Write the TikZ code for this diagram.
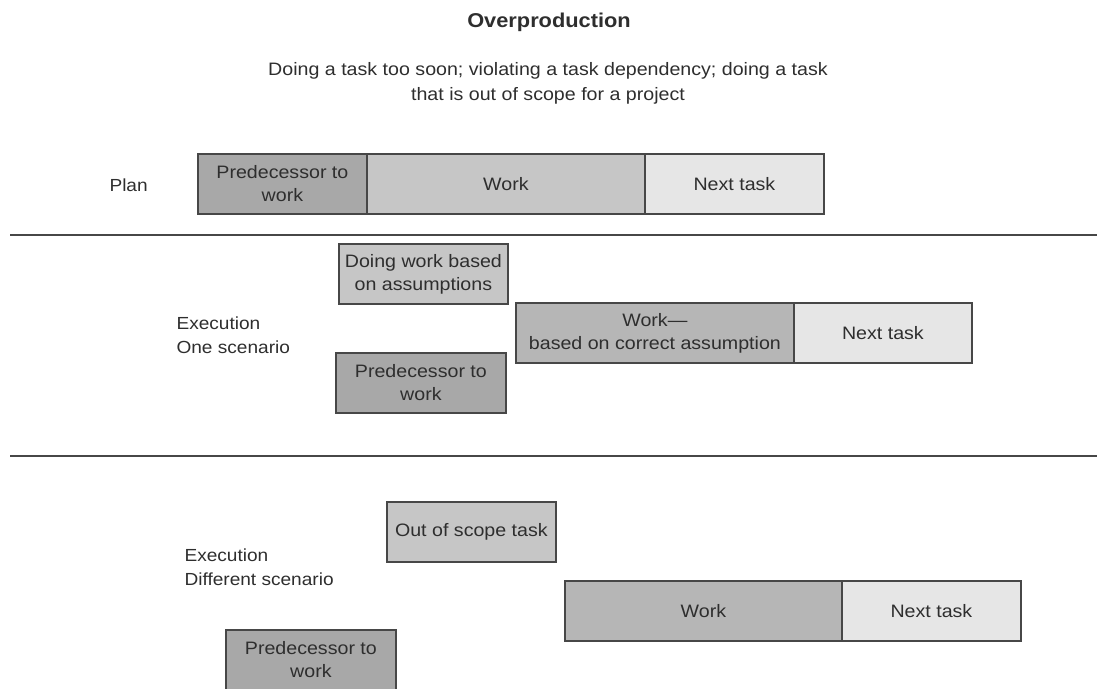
\documentclass[tikz,border=0pt]{standalone}
\usepackage{fontspec}
\setmainfont[FakeStretch=1.09]{Liberation Sans}
\definecolor{predfill}{HTML}{A8A8A8}
\definecolor{workfill}{HTML}{C6C6C6}
\definecolor{midfill}{HTML}{B6B6B6}
\definecolor{nextfill}{HTML}{E6E6E6}
\definecolor{rulegray}{HTML}{474747}
\definecolor{inkgray}{HTML}{2E2E2E}
\begin{document}
\begin{tikzpicture}[x=1pt,y=-1pt,
  task/.style={draw=rulegray, line width=1.8pt, minimum height=#1, inner sep=0pt,
    align=center, anchor=north west, text=inkgray,
    font=\fontsize{18}{23}\selectfont},
  task/.default=60pt,
  tw/.style={minimum width=#1},
  label/.style={align=left, anchor=west, text=inkgray, font=\fontsize{17.5}{24}\selectfont},
  divider/.style={draw=rulegray, line width=2pt}]
\useasboundingbox (0,0) rectangle (1097,688);

% heading
\node[font=\bfseries\fontsize{20}{22}\selectfont, text=inkgray] (title) at (549,22) {Overproduction};
\node[align=center, text=inkgray, font=\fontsize{18}{25}\selectfont] (sub) at (548,83)
  {Doing a task too soon; violating a task dependency; doing a task\\that is out of scope for a project};

% plan row
\node[label] (plan) at (106,185) {Plan};
\node[task, tw=169pt, fill=predfill] (pPred) at (197,153) {Predecessor to\\work};
\node[task, tw=278pt, fill=workfill] (pWork) at (366,153) {Work};
\node[task, tw=179pt, fill=nextfill] (pNext) at (644,153) {Next task};

\coordinate (d1a) at (10,235);
\coordinate (d1b) at (1097,235);
\draw[divider] (d1a) -- (d1b);

% execution, first scenario
\node[label] (exec1) at (173,335) {Execution\\One scenario};
\node[task, tw=169pt, fill=workfill] (eDoing) at (338,243) {Doing work based\\on assumptions};
\node[task, tw=278pt, fill=midfill] (eWork) at (515,302) {Work\textemdash\\based on correct assumption};
\node[task, tw=178pt, fill=nextfill] (eNext) at (793,302) {Next task};
\node[task, tw=170pt, fill=predfill] (ePred) at (335,352) {Predecessor to\\work};

\coordinate (d2a) at (10,456);
\coordinate (d2b) at (1097,456);
\draw[divider] (d2a) -- (d2b);

% execution, different scenario
\node[label] (exec2) at (181,567) {Execution\\Different scenario};
\node[task, tw=169pt, fill=workfill] (fScope) at (386,501) {Out of scope task};
\node[task, tw=277pt, fill=midfill] (fWork) at (564,580) {Work};
\node[task, tw=179pt, fill=nextfill] (fNext) at (841,580) {Next task};
\node[task, tw=170pt, fill=predfill] (fPred) at (225,629) {Predecessor to\\work};
\end{tikzpicture}
\end{document}
